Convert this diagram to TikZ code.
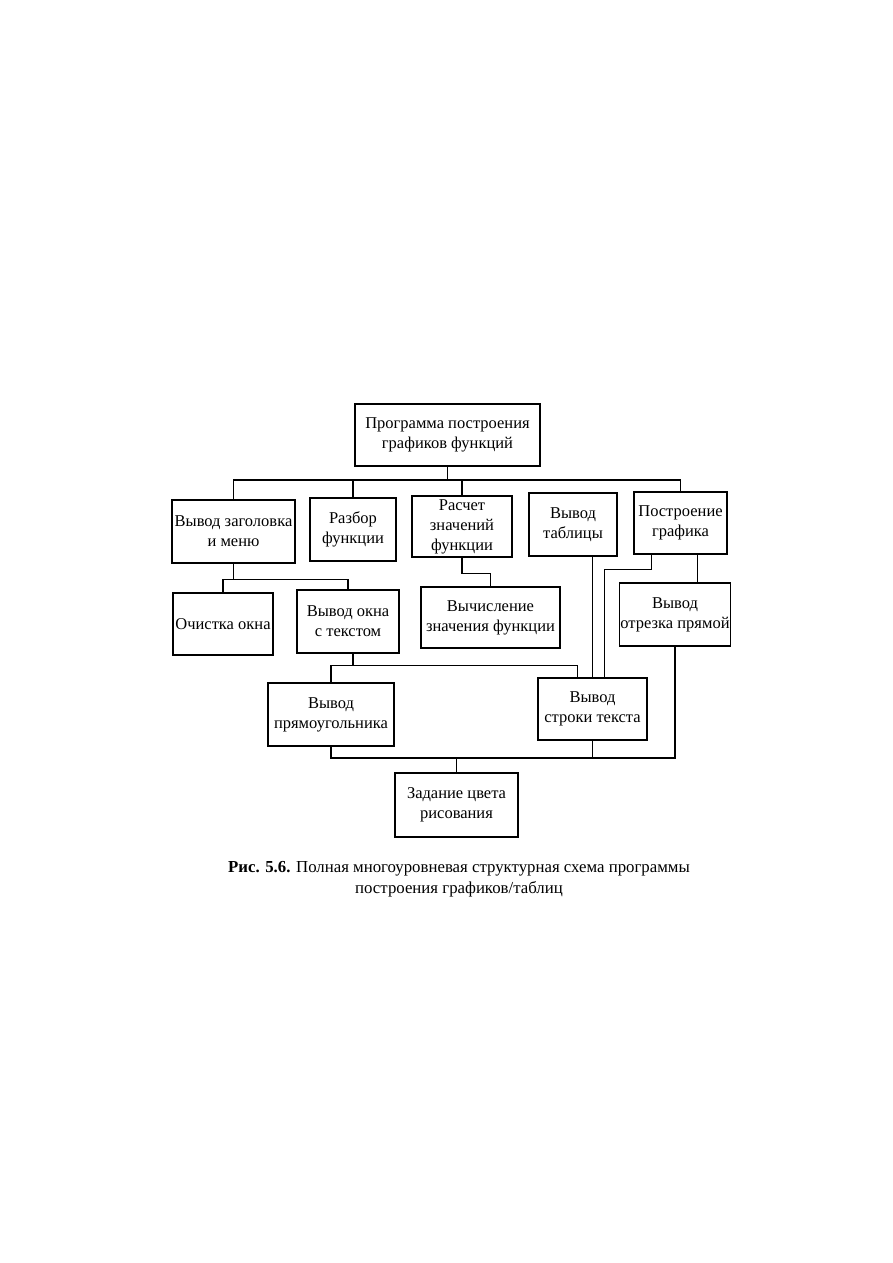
\documentclass[tikz,border=0pt]{standalone}
\usepackage{fontspec}
\setmainfont{Liberation Serif}
\usepackage{tikz}
\tikzstyle{blok}=[rectangle, draw, line width=1.3pt, align=center, inner sep=1pt, font=\fontsize{16.5}{20}\selectfont]
\tikzstyle{svyaz}=[line width=1.3pt]

\begin{document}
\begin{tikzpicture}[x=1pt,y=-1pt]
            \useasboundingbox[fill=white] (0,0) rectangle (893,1263);
            % Блоки
            \node[blok, minimum width=185, minimum height=62] (root) at (447.5,435) {Программа построения\\графиков функций};
            \node[blok, minimum width=123, minimum height=63] (vz) at (233.5,531.5) {Вывод заголовка\\и меню};
            \node[blok, minimum width=86, minimum height=63] (rf) at (353,529.5) {Разбор\\функции};
            \node[blok, minimum width=100, minimum height=61] (rs) at (462,526.5) {Расчет\\значений\\функции};
            \node[blok, minimum width=88, minimum height=63] (vt) at (573,524.5) {Вывод\\таблицы};
            \node[blok, minimum width=93, minimum height=62] (pg) at (680.5,523) {Построение\\графика};
            \node[blok, minimum width=100, minimum height=62] (oo) at (223,624) {Очистка окна};
            \node[blok, minimum width=102, minimum height=63] (vo) at (348,621.5) {Вывод окна\\с текстом};
            \node[blok, minimum width=139, minimum height=61] (vf) at (490.5,617.5) {Вычисление\\значения функции};
            \node[blok, minimum width=110, minimum height=63] (vp) at (675,614.5) {Вывод\\отрезка прямой};
            \node[blok, minimum width=126, minimum height=63] (vr) at (331,714.5) {Вывод\\прямоугольника};
            \node[blok, minimum width=109, minimum height=62] (vs) at (592.5,709) {Вывод\\строки текста};
            \node[blok, minimum width=123, minimum height=64] (zc) at (456.5,805) {Задание цвета\\рисования};
            % Связи
            \coordinate (bus1) at (447.5,480);
            \draw[svyaz] (root.south) -- (bus1);
            \draw[svyaz] (vz.north) |- (bus1) -| (pg.north);
            \draw[svyaz] (rf.north) -- (rf.north |- bus1);
            \draw[svyaz] (rs.north) -- (rs.north |- bus1);
            \draw[svyaz] (vz.south) -- ++(0,16) coordinate (bus2);
            \draw[svyaz] (oo.north) |- (bus2) -| (vo.north);
            \draw[svyaz] (rs.south) -- ++(0,16) -| (vf.north);
            \draw[svyaz] ([xshift=17pt]pg.south) -- ([xshift=17pt]pg.south |- vp.north);
            \draw[svyaz] ([xshift=-29pt]pg.south) -- ++(0,15) -| ([xshift=12pt]vs.north);
            \draw[svyaz] (vt.south -| vs.north) -- (vs.north);
            \draw[svyaz] ([xshift=5pt]vo.south) -- ++(0,12) coordinate (bus3);
            \draw[svyaz] (vr.north) |- (bus3) -| ([xshift=-15pt]vs.north);
            \coordinate (bus4) at (456.5,758);
            \draw[svyaz] (zc.north) -- (bus4);
            \draw[svyaz] (vr.south) |- (bus4) -| (vp.south);
            \draw[svyaz] (vs.south) -- (vs.south |- bus4);
            % Подпись
            \node[align=center, font=\fontsize{16.8}{21}\selectfont] (cap) at (459,879) {\textbf{Рис. 5.6.} Полная многоуровневая структурная схема программы\\построения графиков/таблиц};
        \end{tikzpicture}
\end{document}
